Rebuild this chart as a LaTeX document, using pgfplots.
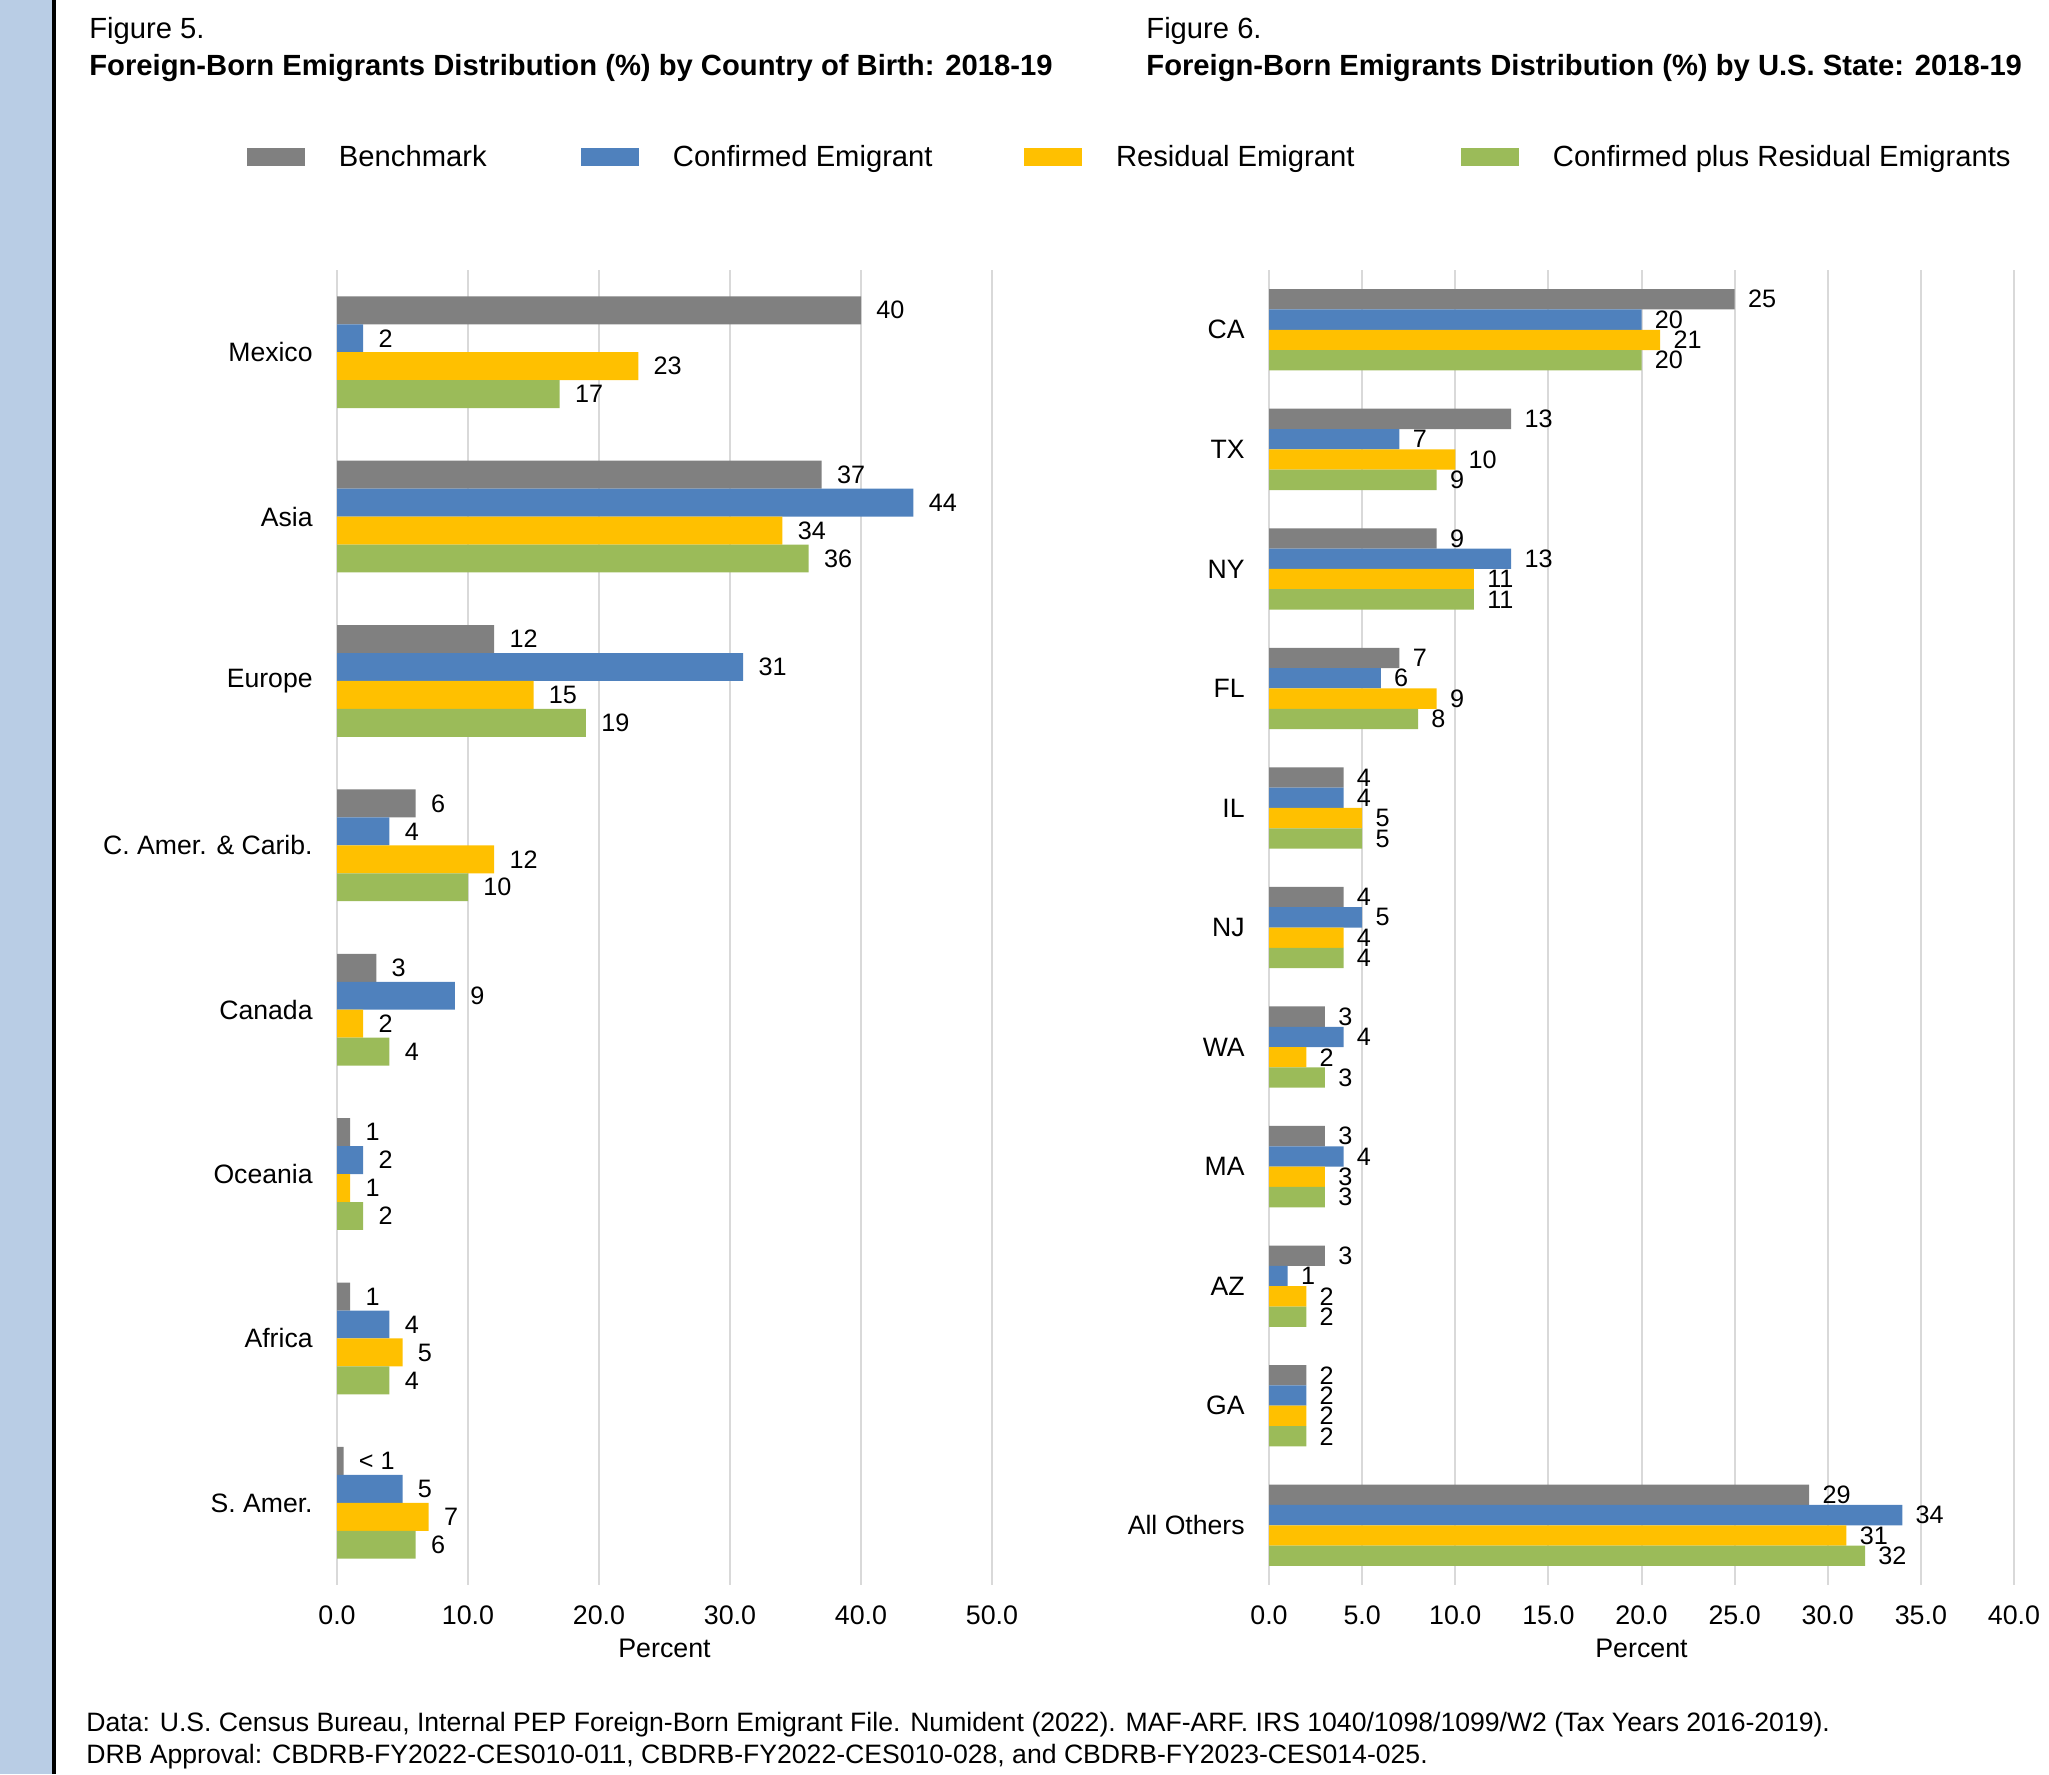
\documentclass[border=0pt]{standalone}
\usepackage{fontspec}
\setmainfont{Liberation Sans}
\usepackage{pgfplots}
\pgfplotsset{compat=1.18}
\definecolor{cBench}{HTML}{808080}
\definecolor{cConf}{HTML}{4F81BD}
\definecolor{cResid}{HTML}{FFC000}
\definecolor{cComb}{HTML}{9BBB59}
\definecolor{stripc}{HTML}{B9CDE5}
\definecolor{gridc}{HTML}{D9D9D9}
\newcommand{\ftitle}{\fontsize{14.6}{17}\selectfont}
\newcommand{\ftick}{\fontsize{13.4}{16}\selectfont}
\newcommand{\fcat}{\fontsize{13.3}{16}\selectfont}
\newcommand{\flab}{\fontsize{12.6}{15}\selectfont}
\pgfplotsset{
  mybars/.style={
    scale only axis, height=657.5pt,
    xbar, bar width=0.17,
    y dir=reverse,
    clip=false,
    axis lines*=left, axis line style={draw=none},
    major tick length=0pt,
    xmajorgrids, grid style={gridc, line width=1pt},
    xmin=0,
    /pgf/number format/.cd, fixed, fixed zerofill, precision=1, assume math mode=true,
    /pgfplots/.cd,
    xticklabel style={font=\ftick, anchor=center, inner sep=0pt, yshift=-15pt},
    yticklabel style={font=\fcat, anchor=east, inner sep=0pt, xshift=-12pt},
    xlabel={Percent},
    xlabel style={font=\ftick, at={(axis description cs:0.5,0)}, anchor=center, yshift=-31.5pt, inner sep=0pt},
    nodes near coords, point meta=explicit symbolic,
    every node near coord/.append style={font=\flab, anchor=west, inner sep=0pt, xshift=7.5pt, text=black},
  },
}
\begin{document}
\begin{tikzpicture}
\fill[stripc] (0pt,0pt) rectangle (26pt,-887pt);
\draw[black, line width=1.75pt] (27pt,0pt) -- (27pt,-887pt);

\node[anchor=base west, inner sep=0pt, font=\ftitle] at (44.5pt,-19pt) {Figure 5.};
\node[anchor=base west, inner sep=0pt, font=\ftitle\bfseries] at (44.5pt,-37.5pt) {Foreign-Born Emigrants Distribution (\%) by Country of Birth: 2018-19};
\node[anchor=base west, inner sep=0pt, font=\ftitle] at (573pt,-19pt) {Figure 6.};
\node[anchor=base west, inner sep=0pt, font=\ftitle\bfseries] at (573pt,-37.5pt) {Foreign-Born Emigrants Distribution (\%) by U.S. State: 2018-19};

\begin{axis}[mybars,
  at={(168.5pt,-792.5pt)}, anchor=south west,
  width=327.5pt,
  xmax=50, xtick={0,10,...,50},
  ymin=-0.5, ymax=7.5, ytick={0,...,7},
  yticklabels={Mexico,Asia,Europe,{C. Amer. \& Carib.},Canada,Oceania,Africa,{S. Amer.}},
  legend columns=4,
  legend style={at={(-0.1374,1.08593)}, anchor=west, draw=none, fill=none, inner sep=0pt, outer sep=0pt,
    nodes={inner sep=0pt, font=\ftitle},
    /tikz/every odd column/.append style={column sep=17pt},
    /tikz/every even column/.append style={column sep=0pt}},
  legend image code/.code={\fill[#1] (0pt,-4.5pt) rectangle (29pt,4.5pt);},
]
\addplot[fill=cBench, draw=none, bar shift=-0.255] coordinates {
 (40,0) [40] (37,1) [37] (12,2) [12] (6,3) [6] (3,4) [3] (1,5) [1] (1,6) [1] (0.5,7) [< 1]};
\addlegendentry{\makebox[121pt][l]{Benchmark}}
\addplot[fill=cConf, draw=none, bar shift=-0.085] coordinates {
 (2,0) [2] (44,1) [44] (31,2) [31] (4,3) [4] (9,4) [9] (2,5) [2] (4,6) [4] (5,7) [5]};
\addlegendentry{\makebox[175.5pt][l]{Confirmed Emigrant}}
\addplot[fill=cResid, draw=none, bar shift=0.085] coordinates {
 (23,0) [23] (34,1) [34] (15,2) [15] (12,3) [12] (2,4) [2] (1,5) [1] (5,6) [5] (7,7) [7]};
\addlegendentry{\makebox[172.5pt][l]{Residual Emigrant}}
\addplot[fill=cComb, draw=none, bar shift=0.255] coordinates {
 (17,0) [17] (36,1) [36] (19,2) [19] (10,3) [10] (4,4) [4] (2,5) [2] (4,6) [4] (6,7) [6]};
\addlegendentry{Confirmed plus Residual Emigrants}
\end{axis}

\begin{axis}[mybars,
  at={(634.5pt,-792.5pt)}, anchor=south west,
  width=372.5pt,
  xmax=40, xtick={0,5,...,40},
  ymin=-0.5, ymax=10.5, ytick={0,...,10},
  yticklabels={CA,TX,NY,FL,IL,NJ,WA,MA,AZ,GA,All Others},
  every node near coord/.append style={xshift=-1pt},
]
\addplot[fill=cBench, draw=none, bar shift=-0.255] coordinates {
 (25,0) [25] (13,1) [13] (9,2) [9] (7,3) [7] (4,4) [4] (4,5) [4] (3,6) [3] (3,7) [3] (3,8) [3] (2,9) [2] (29,10) [29]};
\addplot[fill=cConf, draw=none, bar shift=-0.085] coordinates {
 (20,0) [20] (7,1) [7] (13,2) [13] (6,3) [6] (4,4) [4] (5,5) [5] (4,6) [4] (4,7) [4] (1,8) [1] (2,9) [2] (34,10) [34]};
\addplot[fill=cResid, draw=none, bar shift=0.085] coordinates {
 (21,0) [21] (10,1) [10] (11,2) [11] (9,3) [9] (5,4) [5] (4,5) [4] (2,6) [2] (3,7) [3] (2,8) [2] (2,9) [2] (31,10) [31]};
\addplot[fill=cComb, draw=none, bar shift=0.255] coordinates {
 (20,0) [20] (9,1) [9] (11,2) [11] (8,3) [8] (5,4) [5] (4,5) [4] (3,6) [3] (3,7) [3] (2,8) [2] (2,9) [2] (32,10) [32]};
\end{axis}

\node[anchor=base west, inner sep=0pt, font=\fontsize{13.3}{16}\selectfont] at (43pt,-865.5pt) {Data: U.S. Census Bureau, Internal PEP Foreign-Born Emigrant File. Numident (2022). MAF-ARF. IRS 1040/1098/1099/W2 (Tax Years 2016-2019).};
\node[anchor=base west, inner sep=0pt, font=\fontsize{13.3}{16}\selectfont] at (43pt,-881.5pt) {DRB Approval: CBDRB-FY2022-CES010-011, CBDRB-FY2022-CES010-028, and CBDRB-FY2023-CES014-025.};

\pgfresetboundingbox
\useasboundingbox (0pt,0pt) rectangle (1024.5pt,-887pt);
\end{tikzpicture}
\end{document}
